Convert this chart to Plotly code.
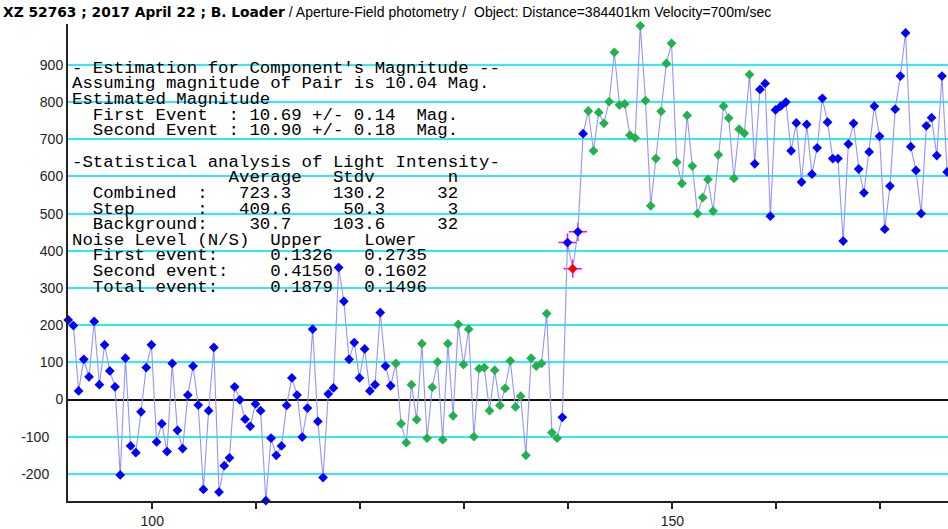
import plotly.graph_objects as go

# ---------------- data ----------------
intensity = [
    214, 199, 23, 108, 61, 210, 40, 147, 77, 34,
    -203, 111, -125, -143, -33, 86, 147, -114, -65, -140,
    97, -83, -132, 12, 90, -15, -242, -30, 140, -249,
    -178, -157, 34, -1, -53, -72, -12, -30, -272, -104,
    -150, -125, -16, 58, 12, -101, -23, 189, -59, -210,
    15, 31, 355, 264, 108, 153, 58, 136, 23, 40,
    234, 90, 37, 97, -65, -116, 40, -54, 150, -104,
    33, 101, -108, 150, -44, 202, 94, 189, -100, 83,
    86, -30, 79, -16, 30, 104, -20, 9, -150, 111,
    90, 97, 231, -89, -104, -48, 422, 352, 451, 715,
    776, 669, 772, 743, 801, 934, 792, 795, 711, 704,
    1005, 804, 521, 648, 775, 904, 958, 638, 581, 764,
    628, 500, 543, 592, 507, 658, 789, 757, 595, 727,
    716, 874, 634, 834, 850, 493, 779, 789, 800, 669,
    744, 585, 740, 606, 677, 810, 746, 648, 648, 426,
    687, 743, 620, 556, 666, 789, 708, 458, 574, 781,
    870, 986, 680, 616, 500, 736, 758, 656, 870, 612,
]
first_time = 91.92
time_step = 0.5
time = [first_time + time_step * i for i in range(len(intensity))]

background_points = list(range(63, 95))   # green, before the event
combined_points = list(range(100, 132))   # green, after the event
step_points = [96, 97, 98]                # points on the step (magenta crosses)
event_point = 97                          # red point

x_range = [91.9, 176.5]
y_range = [-273, 1010]
x_tick_values = [100, 110, 120, 130, 140, 150, 160, 170]
x_tick_text = ["100", "", "", "", "", "150", "", ""]
y_tick_values = [-200, -100, 0, 100, 200, 300, 400, 500, 600, 700, 800, 900]
y_tick_text = ["-200\u2002\u2002", "-100\u2002\u2002", "0", "100", "200", "300",
               "400", "500", "600", "700", "800", "900"]

report_lines = [
    "- Estimation for Component's Magnitude --",
    "Assuming magnitude of Pair is 10.04 Mag.",
    "Estimated Magnitude",
    "  First Event  : 10.69 +/- 0.14  Mag.",
    "  Second Event : 10.90 +/- 0.18  Mag.",
    "",
    "-Statistical analysis of Light Intensity-",
    "               Average   Stdv       n",
    "  Combined  :   723.3    130.2     32",
    "  Step      :   409.6     50.3      3",
    "  Background:    30.7    103.6     32",
    "Noise Level (N/S)  Upper    Lower",
    "  First event:     0.1326   0.2735",
    "  Second event:    0.4150   0.1602",
    "  Total event:     0.1879   0.1496",
]

title_bold = "XZ 52763 ; 2017 April 22 ; B. Loader"
title_rest = " / Aperture-Field photometry /\u00a0 Object: Distance=384401km Velocity=700m/sec"

# ---------------- styling ----------------
BLUE = "#0000ff"
GREEN = "#22b14c"
RED = "#ff0000"
LINE = "#9494ff"
GRID = "#30eaf8"

colors = [BLUE] * len(intensity)
for i in background_points + combined_points:
    colors[i] = GREEN
colors[event_point] = RED

W, H = 948, 529
M_L, M_R, M_T, M_B = 68, 0, 24, 28
plot_h = H - M_T - M_B

fig = go.Figure()

fig.add_trace(go.Scatter(
    x=[time[i] for i in step_points], y=[intensity[i] for i in step_points],
    mode="markers",
    marker=dict(symbol="cross-thin", size=13, line=dict(color="#ff00ff", width=1.5)),
    hoverinfo="skip", showlegend=False, cliponaxis=False,
))
fig.add_trace(go.Scatter(
    x=time, y=intensity, mode="lines",
    line=dict(color=LINE, width=1.1),
    showlegend=False,
))
fig.add_trace(go.Scatter(
    x=time, y=intensity, mode="markers",
    marker=dict(symbol="diamond", size=7.5, color=colors, line=dict(width=0)),
    showlegend=False, cliponaxis=False,
))

# report text, one annotation per line (monospace)
line_top_px = 68.3
line_gap_px = 15.64
text_left_px = 69.5
for k, txt in enumerate(report_lines):
    if not txt:
        continue
    py = line_top_px + line_gap_px * k
    fig.add_annotation(
        x=(text_left_px - M_L) / (W - M_L - M_R), xref="paper", xanchor="left",
        y=(H - M_B - py) / plot_h, yref="paper", yanchor="middle",
        text=txt.replace(" ", "\u00a0"), showarrow=False, align="left",
        font=dict(family="Liberation Mono", size=17.4, color="#000000"),
    )

fig.update_layout(
    width=W, height=H,
    margin=dict(l=M_L, r=M_R, t=M_T, b=M_B, pad=0),
    paper_bgcolor="#ffffff", plot_bgcolor="#ffffff",
    title=dict(
        text=(f"<span style='font-family:DejaVu Sans;font-size:13.8px'><b>{title_bold}</b></span>"
              f"{title_rest}"),
        x=3 / W, xref="container", xanchor="left",
        y=1 - 12 / H, yref="container", yanchor="middle",
        font=dict(family="Liberation Sans", size=14, color="#000000"),
    ),
    xaxis=dict(
        range=x_range, tickvals=x_tick_values, ticktext=x_tick_text,
        ticks="outside", ticklen=6, tickwidth=1.5, tickcolor="#222222",
        showgrid=False, zeroline=False,
        showline=True, linecolor="#222222", linewidth=2,
        tickfont=dict(family="Liberation Sans", size=14, color="#222222"),
    ),
    yaxis=dict(
        range=y_range, tickvals=y_tick_values, ticktext=y_tick_text,
        ticks="", showgrid=True, gridcolor=GRID, gridwidth=1.5,
        zeroline=True, zerolinecolor="#111111", zerolinewidth=1.7,
        showline=True, linecolor="#222222", linewidth=2,
        tickfont=dict(family="Liberation Sans", size=14, color="#222222"),
    ),
)

fig.write_html("out.html")
